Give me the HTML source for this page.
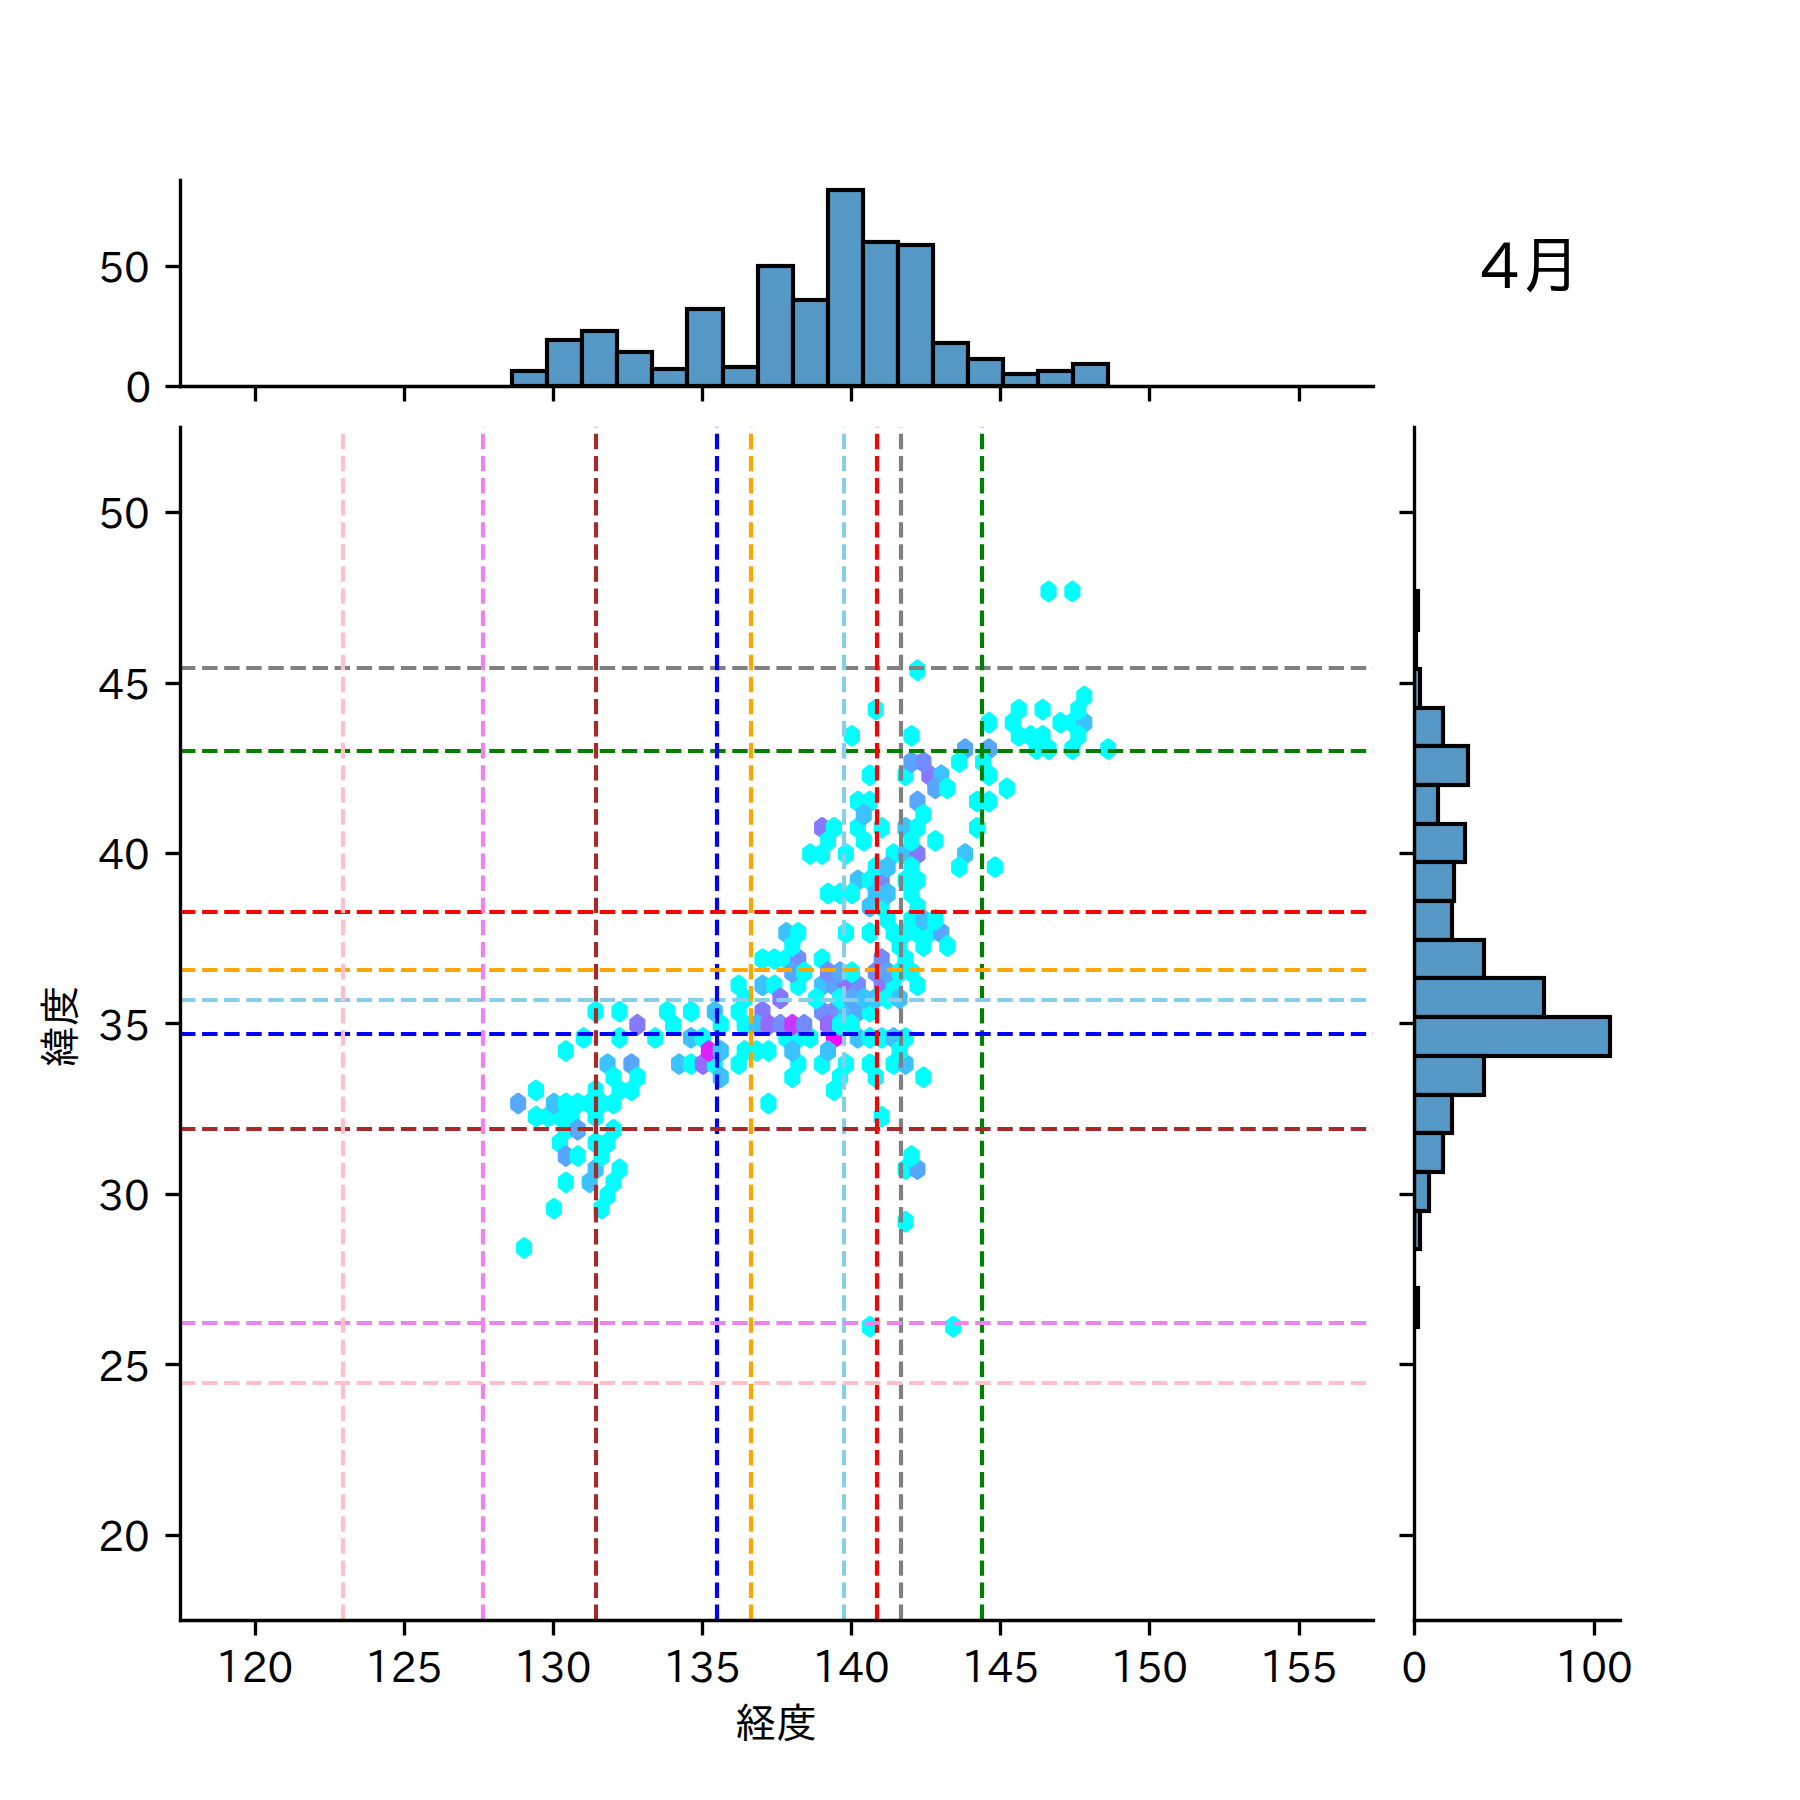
<!DOCTYPE html>
<html lang="ja">
<head>
<meta charset="utf-8">
<title>4月 経度 緯度</title>
<style>
html,body{margin:0;padding:0;background:#fff;}
body{width:1800px;height:1800px;overflow:hidden;}
svg{display:block;font-family:"IPAPGothic", "Liberation Sans", "IPAGothic", sans-serif;}
</style>
</head>
<body>
<svg width="1800" height="1800" viewBox="0 0 1800 1800">
<defs><clipPath id="cm"><rect x="180" y="426.86" width="1193.14" height="1193.14"/></clipPath><clipPath id="ct"><rect x="180" y="180" width="1193.14" height="205.71"/></clipPath><clipPath id="cr"><rect x="1414.29" y="426.86" width="205.71" height="1193.14"/></clipPath></defs>
<rect width="1800" height="1800" fill="#fff"/>
<g clip-path="url(#ct)" fill="#5799c6" stroke="#000" stroke-width="4.17" stroke-linejoin="miter">
<rect x="512" y="371" width="35" height="15"/>
<rect x="547" y="340" width="35" height="46"/>
<rect x="582" y="331" width="35" height="55"/>
<rect x="617" y="352" width="35" height="34"/>
<rect x="652" y="369" width="35" height="17"/>
<rect x="687" y="309" width="36" height="77"/>
<rect x="723" y="367" width="35" height="19"/>
<rect x="758" y="266" width="35" height="120"/>
<rect x="793" y="300" width="35" height="86"/>
<rect x="828" y="190" width="35" height="196"/>
<rect x="863" y="242" width="35" height="144"/>
<rect x="898" y="245" width="35" height="141"/>
<rect x="933" y="343" width="35" height="43"/>
<rect x="968" y="359" width="35" height="27"/>
<rect x="1003" y="374" width="35" height="12"/>
<rect x="1038" y="371" width="35" height="15"/>
<rect x="1073" y="364" width="35" height="22"/>
</g>
<g clip-path="url(#cr)" fill="#5799c6" stroke="#000" stroke-width="4.17" stroke-linejoin="miter">
<rect x="1414" y="591" width="4" height="39"/>
<rect x="1414" y="630" width="2" height="39"/>
<rect x="1414" y="669" width="6" height="39"/>
<rect x="1414" y="708" width="29" height="38"/>
<rect x="1414" y="746" width="54" height="39"/>
<rect x="1414" y="785" width="24" height="39"/>
<rect x="1414" y="824" width="51" height="38"/>
<rect x="1414" y="862" width="40" height="39"/>
<rect x="1414" y="901" width="38" height="39"/>
<rect x="1414" y="940" width="70" height="38"/>
<rect x="1414" y="978" width="130" height="39"/>
<rect x="1414" y="1017" width="196" height="39"/>
<rect x="1414" y="1056" width="70" height="39"/>
<rect x="1414" y="1095" width="38" height="38"/>
<rect x="1414" y="1133" width="29" height="39"/>
<rect x="1414" y="1172" width="15" height="39"/>
<rect x="1414" y="1211" width="6" height="38"/>
<rect x="1414" y="1288" width="4" height="39"/>
</g>
<g clip-path="url(#cm)" stroke-width="4.17" stroke-linejoin="round">
<path d="M530.08 1243.59L530.08 1252.34L524.12 1256.72L518.16 1252.34L518.16 1243.59L524.12 1239.21Z" fill="#00ffff" stroke="#00ffff"/>
<path d="M542 1112.29L542 1121.04L536.04 1125.42L530.08 1121.04L530.08 1112.29L536.04 1107.91Z" fill="#00ffff" stroke="#00ffff"/>
<path d="M542 1086.03L542 1094.78L536.04 1099.16L530.08 1094.78L530.08 1086.03L536.04 1081.65Z" fill="#00ffff" stroke="#00ffff"/>
<path d="M553.92 1112.29L553.92 1121.04L547.96 1125.42L542 1121.04L542 1112.29L547.96 1107.91Z" fill="#00ffff" stroke="#00ffff"/>
<path d="M565.83 1138.55L565.83 1147.3L559.87 1151.68L553.92 1147.3L553.92 1138.55L559.87 1134.17Z" fill="#00ffff" stroke="#00ffff"/>
<path d="M565.83 1112.29L565.83 1121.04L559.87 1125.42L553.92 1121.04L553.92 1112.29L559.87 1107.91Z" fill="#00ffff" stroke="#00ffff"/>
<path d="M577.75 1112.29L577.75 1121.04L571.79 1125.42L565.83 1121.04L565.83 1112.29L571.79 1107.91Z" fill="#00ffff" stroke="#00ffff"/>
<path d="M589.67 1033.51L589.67 1042.26L583.71 1046.64L577.75 1042.26L577.75 1033.51L583.71 1029.13Z" fill="#00ffff" stroke="#00ffff"/>
<path d="M601.59 1164.81L601.59 1173.56L595.63 1177.94L589.67 1173.56L589.67 1164.81L595.63 1160.43Z" fill="#3cc3ff" stroke="#3cc3ff"/>
<path d="M601.59 1138.55L601.59 1147.3L595.63 1151.68L589.67 1147.3L589.67 1138.55L595.63 1134.17Z" fill="#00ffff" stroke="#00ffff"/>
<path d="M601.59 1112.29L601.59 1121.04L595.63 1125.42L589.67 1121.04L589.67 1112.29L595.63 1107.91Z" fill="#00ffff" stroke="#00ffff"/>
<path d="M601.59 1086.03L601.59 1094.78L595.63 1099.16L589.67 1094.78L589.67 1086.03L595.63 1081.65Z" fill="#00ffff" stroke="#00ffff"/>
<path d="M601.59 1007.24L601.59 1016L595.63 1020.38L589.67 1016L589.67 1007.24L595.63 1002.87Z" fill="#00ffff" stroke="#00ffff"/>
<path d="M613.51 1191.07L613.51 1199.82L607.55 1204.2L601.59 1199.82L601.59 1191.07L607.55 1186.69Z" fill="#00ffff" stroke="#00ffff"/>
<path d="M613.51 1138.55L613.51 1147.3L607.55 1151.68L601.59 1147.3L601.59 1138.55L607.55 1134.17Z" fill="#00ffff" stroke="#00ffff"/>
<path d="M613.51 1059.77L613.51 1068.52L607.55 1072.9L601.59 1068.52L601.59 1059.77L607.55 1055.39Z" fill="#3cc3ff" stroke="#3cc3ff"/>
<path d="M625.43 1164.81L625.43 1173.56L619.47 1177.94L613.51 1173.56L613.51 1164.81L619.47 1160.43Z" fill="#00ffff" stroke="#00ffff"/>
<path d="M625.43 1086.03L625.43 1094.78L619.47 1099.16L613.51 1094.78L613.51 1086.03L619.47 1081.65Z" fill="#00ffff" stroke="#00ffff"/>
<path d="M625.43 1033.51L625.43 1042.26L619.47 1046.64L613.51 1042.26L613.51 1033.51L619.47 1029.13Z" fill="#00ffff" stroke="#00ffff"/>
<path d="M625.43 1007.24L625.43 1016L619.47 1020.38L613.51 1016L613.51 1007.24L619.47 1002.87Z" fill="#00ffff" stroke="#00ffff"/>
<path d="M637.35 1086.03L637.35 1094.78L631.39 1099.16L625.43 1094.78L625.43 1086.03L631.39 1081.65Z" fill="#00ffff" stroke="#00ffff"/>
<path d="M637.35 1059.77L637.35 1068.52L631.39 1072.9L625.43 1068.52L625.43 1059.77L631.39 1055.39Z" fill="#58a7ff" stroke="#58a7ff"/>
<path d="M661.18 1033.51L661.18 1042.26L655.22 1046.64L649.27 1042.26L649.27 1033.51L655.22 1029.13Z" fill="#00ffff" stroke="#00ffff"/>
<path d="M673.1 1007.24L673.1 1016L667.14 1020.38L661.18 1016L661.18 1007.24L667.14 1002.87Z" fill="#00ffff" stroke="#00ffff"/>
<path d="M685.02 1059.77L685.02 1068.52L679.06 1072.9L673.1 1068.52L673.1 1059.77L679.06 1055.39Z" fill="#3cc3ff" stroke="#3cc3ff"/>
<path d="M696.94 1059.77L696.94 1068.52L690.98 1072.9L685.02 1068.52L685.02 1059.77L690.98 1055.39Z" fill="#00ffff" stroke="#00ffff"/>
<path d="M696.94 1033.51L696.94 1042.26L690.98 1046.64L685.02 1042.26L685.02 1033.51L690.98 1029.13Z" fill="#3cc3ff" stroke="#3cc3ff"/>
<path d="M696.94 1007.24L696.94 1016L690.98 1020.38L685.02 1016L685.02 1007.24L690.98 1002.87Z" fill="#00ffff" stroke="#00ffff"/>
<path d="M708.86 1059.77L708.86 1068.52L702.9 1072.9L696.94 1068.52L696.94 1059.77L702.9 1055.39Z" fill="#9669ff" stroke="#9669ff"/>
<path d="M708.86 1033.51L708.86 1042.26L702.9 1046.64L696.94 1042.26L696.94 1033.51L702.9 1029.13Z" fill="#00ffff" stroke="#00ffff"/>
<path d="M720.78 1059.77L720.78 1068.52L714.82 1072.9L708.86 1068.52L708.86 1059.77L714.82 1055.39Z" fill="#00ffff" stroke="#00ffff"/>
<path d="M720.78 1007.24L720.78 1016L714.82 1020.38L708.86 1016L708.86 1007.24L714.82 1002.87Z" fill="#3cc3ff" stroke="#3cc3ff"/>
<path d="M744.61 1059.77L744.61 1068.52L738.66 1072.9L732.7 1068.52L732.7 1059.77L738.66 1055.39Z" fill="#00ffff" stroke="#00ffff"/>
<path d="M744.61 1007.24L744.61 1016L738.66 1020.38L732.7 1016L732.7 1007.24L738.66 1002.87Z" fill="#00ffff" stroke="#00ffff"/>
<path d="M744.61 980.98L744.61 989.74L738.66 994.11L732.7 989.74L732.7 980.98L738.66 976.61Z" fill="#00ffff" stroke="#00ffff"/>
<path d="M768.45 1007.24L768.45 1016L762.49 1020.38L756.53 1016L756.53 1007.24L762.49 1002.87Z" fill="#857aff" stroke="#857aff"/>
<path d="M768.45 980.98L768.45 989.74L762.49 994.11L756.53 989.74L756.53 980.98L762.49 976.61Z" fill="#3cc3ff" stroke="#3cc3ff"/>
<path d="M768.45 954.72L768.45 963.48L762.49 967.85L756.53 963.48L756.53 954.72L762.49 950.35Z" fill="#00ffff" stroke="#00ffff"/>
<path d="M780.37 980.98L780.37 989.74L774.41 994.11L768.45 989.74L768.45 980.98L774.41 976.61Z" fill="#00ffff" stroke="#00ffff"/>
<path d="M780.37 954.72L780.37 963.48L774.41 967.85L768.45 963.48L768.45 954.72L774.41 950.35Z" fill="#00ffff" stroke="#00ffff"/>
<path d="M792.29 1033.51L792.29 1042.26L786.33 1046.64L780.37 1042.26L780.37 1033.51L786.33 1029.13Z" fill="#00ffff" stroke="#00ffff"/>
<path d="M792.29 954.72L792.29 963.48L786.33 967.85L780.37 963.48L780.37 954.72L786.33 950.35Z" fill="#00ffff" stroke="#00ffff"/>
<path d="M792.29 928.46L792.29 937.22L786.33 941.59L780.37 937.22L780.37 928.46L786.33 924.09Z" fill="#3cc3ff" stroke="#3cc3ff"/>
<path d="M804.21 1059.77L804.21 1068.52L798.25 1072.9L792.29 1068.52L792.29 1059.77L798.25 1055.39Z" fill="#00ffff" stroke="#00ffff"/>
<path d="M804.21 1033.51L804.21 1042.26L798.25 1046.64L792.29 1042.26L792.29 1033.51L798.25 1029.13Z" fill="#00ffff" stroke="#00ffff"/>
<path d="M804.21 980.98L804.21 989.74L798.25 994.11L792.29 989.74L792.29 980.98L798.25 976.61Z" fill="#00ffff" stroke="#00ffff"/>
<path d="M804.21 954.72L804.21 963.48L798.25 967.85L792.29 963.48L792.29 954.72L798.25 950.35Z" fill="#738cff" stroke="#738cff"/>
<path d="M804.21 928.46L804.21 937.22L798.25 941.59L792.29 937.22L792.29 928.46L798.25 924.09Z" fill="#00ffff" stroke="#00ffff"/>
<path d="M816.13 1033.51L816.13 1042.26L810.17 1046.64L804.21 1042.26L804.21 1033.51L810.17 1029.13Z" fill="#00ffff" stroke="#00ffff"/>
<path d="M816.13 849.68L816.13 858.43L810.17 862.81L804.21 858.43L804.21 849.68L810.17 845.3Z" fill="#00ffff" stroke="#00ffff"/>
<path d="M828.05 1059.77L828.05 1068.52L822.09 1072.9L816.13 1068.52L816.13 1059.77L822.09 1055.39Z" fill="#00ffff" stroke="#00ffff"/>
<path d="M828.05 1007.24L828.05 1016L822.09 1020.38L816.13 1016L816.13 1007.24L822.09 1002.87Z" fill="#738cff" stroke="#738cff"/>
<path d="M828.05 980.98L828.05 989.74L822.09 994.11L816.13 989.74L816.13 980.98L822.09 976.61Z" fill="#3cc3ff" stroke="#3cc3ff"/>
<path d="M828.05 954.72L828.05 963.48L822.09 967.85L816.13 963.48L816.13 954.72L822.09 950.35Z" fill="#00ffff" stroke="#00ffff"/>
<path d="M828.05 849.68L828.05 858.43L822.09 862.81L816.13 858.43L816.13 849.68L822.09 845.3Z" fill="#00ffff" stroke="#00ffff"/>
<path d="M828.05 823.42L828.05 832.17L822.09 836.55L816.13 832.17L816.13 823.42L822.09 819.04Z" fill="#857aff" stroke="#857aff"/>
<path d="M839.96 1086.03L839.96 1094.78L834 1099.16L828.05 1094.78L828.05 1086.03L834 1081.65Z" fill="#00ffff" stroke="#00ffff"/>
<path d="M839.96 1033.51L839.96 1042.26L834 1046.64L828.05 1042.26L828.05 1033.51L834 1029.13Z" fill="#ff00ff" stroke="#ff00ff"/>
<path d="M839.96 1007.24L839.96 1016L834 1020.38L828.05 1016L828.05 1007.24L834 1002.87Z" fill="#738cff" stroke="#738cff"/>
<path d="M839.96 980.98L839.96 989.74L834 994.11L828.05 989.74L828.05 980.98L834 976.61Z" fill="#58a7ff" stroke="#58a7ff"/>
<path d="M839.96 823.42L839.96 832.17L834 836.55L828.05 832.17L828.05 823.42L834 819.04Z" fill="#00ffff" stroke="#00ffff"/>
<path d="M851.88 1059.77L851.88 1068.52L845.92 1072.9L839.96 1068.52L839.96 1059.77L845.92 1055.39Z" fill="#00ffff" stroke="#00ffff"/>
<path d="M851.88 1007.24L851.88 1016L845.92 1020.38L839.96 1016L839.96 1007.24L845.92 1002.87Z" fill="#3cc3ff" stroke="#3cc3ff"/>
<path d="M851.88 980.98L851.88 989.74L845.92 994.11L839.96 989.74L839.96 980.98L845.92 976.61Z" fill="#9669ff" stroke="#9669ff"/>
<path d="M851.88 928.46L851.88 937.22L845.92 941.59L839.96 937.22L839.96 928.46L845.92 924.09Z" fill="#00ffff" stroke="#00ffff"/>
<path d="M851.88 849.68L851.88 858.43L845.92 862.81L839.96 858.43L839.96 849.68L845.92 845.3Z" fill="#00ffff" stroke="#00ffff"/>
<path d="M863.8 1033.51L863.8 1042.26L857.84 1046.64L851.88 1042.26L851.88 1033.51L857.84 1029.13Z" fill="#3cc3ff" stroke="#3cc3ff"/>
<path d="M863.8 1007.24L863.8 1016L857.84 1020.38L851.88 1016L851.88 1007.24L857.84 1002.87Z" fill="#58a7ff" stroke="#58a7ff"/>
<path d="M863.8 980.98L863.8 989.74L857.84 994.11L851.88 989.74L851.88 980.98L857.84 976.61Z" fill="#738cff" stroke="#738cff"/>
<path d="M863.8 875.94L863.8 884.69L857.84 889.07L851.88 884.69L851.88 875.94L857.84 871.56Z" fill="#3cc3ff" stroke="#3cc3ff"/>
<path d="M863.8 823.42L863.8 832.17L857.84 836.55L851.88 832.17L851.88 823.42L857.84 819.04Z" fill="#00ffff" stroke="#00ffff"/>
<path d="M863.8 797.16L863.8 805.91L857.84 810.29L851.88 805.91L851.88 797.16L857.84 792.78Z" fill="#00ffff" stroke="#00ffff"/>
<path d="M875.72 1322.37L875.72 1331.13L869.76 1335.5L863.8 1331.13L863.8 1322.37L869.76 1318Z" fill="#00ffff" stroke="#00ffff"/>
<path d="M875.72 1059.77L875.72 1068.52L869.76 1072.9L863.8 1068.52L863.8 1059.77L869.76 1055.39Z" fill="#00ffff" stroke="#00ffff"/>
<path d="M875.72 1033.51L875.72 1042.26L869.76 1046.64L863.8 1042.26L863.8 1033.51L869.76 1029.13Z" fill="#00ffff" stroke="#00ffff"/>
<path d="M875.72 1007.24L875.72 1016L869.76 1020.38L863.8 1016L863.8 1007.24L869.76 1002.87Z" fill="#00ffff" stroke="#00ffff"/>
<path d="M875.72 928.46L875.72 937.22L869.76 941.59L863.8 937.22L863.8 928.46L869.76 924.09Z" fill="#00ffff" stroke="#00ffff"/>
<path d="M875.72 902.2L875.72 910.96L869.76 915.33L863.8 910.96L863.8 902.2L869.76 897.83Z" fill="#3cc3ff" stroke="#3cc3ff"/>
<path d="M875.72 875.94L875.72 884.69L869.76 889.07L863.8 884.69L863.8 875.94L869.76 871.56Z" fill="#00ffff" stroke="#00ffff"/>
<path d="M875.72 797.16L875.72 805.91L869.76 810.29L863.8 805.91L863.8 797.16L869.76 792.78Z" fill="#00ffff" stroke="#00ffff"/>
<path d="M875.72 770.9L875.72 779.65L869.76 784.03L863.8 779.65L863.8 770.9L869.76 766.52Z" fill="#00ffff" stroke="#00ffff"/>
<path d="M887.64 1112.29L887.64 1121.04L881.68 1125.42L875.72 1121.04L875.72 1112.29L881.68 1107.91Z" fill="#00ffff" stroke="#00ffff"/>
<path d="M887.64 1033.51L887.64 1042.26L881.68 1046.64L875.72 1042.26L875.72 1033.51L881.68 1029.13Z" fill="#00ffff" stroke="#00ffff"/>
<path d="M887.64 980.98L887.64 989.74L881.68 994.11L875.72 989.74L875.72 980.98L881.68 976.61Z" fill="#857aff" stroke="#857aff"/>
<path d="M887.64 954.72L887.64 963.48L881.68 967.85L875.72 963.48L875.72 954.72L881.68 950.35Z" fill="#738cff" stroke="#738cff"/>
<path d="M887.64 902.2L887.64 910.96L881.68 915.33L875.72 910.96L875.72 902.2L881.68 897.83Z" fill="#00ffff" stroke="#00ffff"/>
<path d="M887.64 875.94L887.64 884.69L881.68 889.07L875.72 884.69L875.72 875.94L881.68 871.56Z" fill="#738cff" stroke="#738cff"/>
<path d="M887.64 823.42L887.64 832.17L881.68 836.55L875.72 832.17L875.72 823.42L881.68 819.04Z" fill="#00ffff" stroke="#00ffff"/>
<path d="M899.56 1059.77L899.56 1068.52L893.6 1072.9L887.64 1068.52L887.64 1059.77L893.6 1055.39Z" fill="#00ffff" stroke="#00ffff"/>
<path d="M899.56 1033.51L899.56 1042.26L893.6 1046.64L887.64 1042.26L887.64 1033.51L893.6 1029.13Z" fill="#3cc3ff" stroke="#3cc3ff"/>
<path d="M899.56 980.98L899.56 989.74L893.6 994.11L887.64 989.74L887.64 980.98L893.6 976.61Z" fill="#00ffff" stroke="#00ffff"/>
<path d="M899.56 928.46L899.56 937.22L893.6 941.59L887.64 937.22L887.64 928.46L893.6 924.09Z" fill="#00ffff" stroke="#00ffff"/>
<path d="M899.56 849.68L899.56 858.43L893.6 862.81L887.64 858.43L887.64 849.68L893.6 845.3Z" fill="#00ffff" stroke="#00ffff"/>
<path d="M911.48 1217.33L911.48 1226.08L905.52 1230.46L899.56 1226.08L899.56 1217.33L905.52 1212.95Z" fill="#00ffff" stroke="#00ffff"/>
<path d="M911.48 1164.81L911.48 1173.56L905.52 1177.94L899.56 1173.56L899.56 1164.81L905.52 1160.43Z" fill="#00ffff" stroke="#00ffff"/>
<path d="M911.48 1059.77L911.48 1068.52L905.52 1072.9L899.56 1068.52L899.56 1059.77L905.52 1055.39Z" fill="#3cc3ff" stroke="#3cc3ff"/>
<path d="M911.48 1033.51L911.48 1042.26L905.52 1046.64L899.56 1042.26L899.56 1033.51L905.52 1029.13Z" fill="#00ffff" stroke="#00ffff"/>
<path d="M911.48 954.72L911.48 963.48L905.52 967.85L899.56 963.48L899.56 954.72L905.52 950.35Z" fill="#00ffff" stroke="#00ffff"/>
<path d="M911.48 928.46L911.48 937.22L905.52 941.59L899.56 937.22L899.56 928.46L905.52 924.09Z" fill="#00ffff" stroke="#00ffff"/>
<path d="M911.48 875.94L911.48 884.69L905.52 889.07L899.56 884.69L899.56 875.94L905.52 871.56Z" fill="#00ffff" stroke="#00ffff"/>
<path d="M911.48 849.68L911.48 858.43L905.52 862.81L899.56 858.43L899.56 849.68L905.52 845.3Z" fill="#3cc3ff" stroke="#3cc3ff"/>
<path d="M911.48 823.42L911.48 832.17L905.52 836.55L899.56 832.17L899.56 823.42L905.52 819.04Z" fill="#3cc3ff" stroke="#3cc3ff"/>
<path d="M911.48 770.9L911.48 779.65L905.52 784.03L899.56 779.65L899.56 770.9L905.52 766.52Z" fill="#00ffff" stroke="#00ffff"/>
<path d="M923.4 1164.81L923.4 1173.56L917.44 1177.94L911.48 1173.56L911.48 1164.81L917.44 1160.43Z" fill="#58a7ff" stroke="#58a7ff"/>
<path d="M923.4 980.98L923.4 989.74L917.44 994.11L911.48 989.74L911.48 980.98L917.44 976.61Z" fill="#00ffff" stroke="#00ffff"/>
<path d="M923.4 928.46L923.4 937.22L917.44 941.59L911.48 937.22L911.48 928.46L917.44 924.09Z" fill="#00ffff" stroke="#00ffff"/>
<path d="M923.4 902.2L923.4 910.96L917.44 915.33L911.48 910.96L911.48 902.2L917.44 897.83Z" fill="#00ffff" stroke="#00ffff"/>
<path d="M923.4 875.94L923.4 884.69L917.44 889.07L911.48 884.69L911.48 875.94L917.44 871.56Z" fill="#00ffff" stroke="#00ffff"/>
<path d="M923.4 849.68L923.4 858.43L917.44 862.81L911.48 858.43L911.48 849.68L917.44 845.3Z" fill="#857aff" stroke="#857aff"/>
<path d="M923.4 823.42L923.4 832.17L917.44 836.55L911.48 832.17L911.48 823.42L917.44 819.04Z" fill="#00ffff" stroke="#00ffff"/>
<path d="M923.4 797.16L923.4 805.91L917.44 810.29L911.48 805.91L911.48 797.16L917.44 792.78Z" fill="#58a7ff" stroke="#58a7ff"/>
<path d="M923.4 665.86L923.4 674.61L917.44 678.99L911.48 674.61L911.48 665.86L917.44 661.48Z" fill="#00ffff" stroke="#00ffff"/>
<path d="M935.31 928.46L935.31 937.22L929.35 941.59L923.4 937.22L923.4 928.46L929.35 924.09Z" fill="#00ffff" stroke="#00ffff"/>
<path d="M935.31 770.9L935.31 779.65L929.35 784.03L923.4 779.65L923.4 770.9L929.35 766.52Z" fill="#857aff" stroke="#857aff"/>
<path d="M947.23 928.46L947.23 937.22L941.27 941.59L935.31 937.22L935.31 928.46L941.27 924.09Z" fill="#58a7ff" stroke="#58a7ff"/>
<path d="M947.23 770.9L947.23 779.65L941.27 784.03L935.31 779.65L935.31 770.9L941.27 766.52Z" fill="#3cc3ff" stroke="#3cc3ff"/>
<path d="M959.15 1322.37L959.15 1331.13L953.19 1335.5L947.23 1331.13L947.23 1322.37L953.19 1318Z" fill="#00ffff" stroke="#00ffff"/>
<path d="M971.07 849.68L971.07 858.43L965.11 862.81L959.15 858.43L959.15 849.68L965.11 845.3Z" fill="#3cc3ff" stroke="#3cc3ff"/>
<path d="M971.07 744.64L971.07 753.39L965.11 757.77L959.15 753.39L959.15 744.64L965.11 740.26Z" fill="#58a7ff" stroke="#58a7ff"/>
<path d="M982.99 823.42L982.99 832.17L977.03 836.55L971.07 832.17L971.07 823.42L977.03 819.04Z" fill="#00ffff" stroke="#00ffff"/>
<path d="M982.99 797.16L982.99 805.91L977.03 810.29L971.07 805.91L971.07 797.16L977.03 792.78Z" fill="#00ffff" stroke="#00ffff"/>
<path d="M994.91 797.16L994.91 805.91L988.95 810.29L982.99 805.91L982.99 797.16L988.95 792.78Z" fill="#00ffff" stroke="#00ffff"/>
<path d="M994.91 770.9L994.91 779.65L988.95 784.03L982.99 779.65L982.99 770.9L988.95 766.52Z" fill="#00ffff" stroke="#00ffff"/>
<path d="M994.91 744.64L994.91 753.39L988.95 757.77L982.99 753.39L982.99 744.64L988.95 740.26Z" fill="#58a7ff" stroke="#58a7ff"/>
<path d="M994.91 718.38L994.91 727.13L988.95 731.51L982.99 727.13L982.99 718.38L988.95 714Z" fill="#00ffff" stroke="#00ffff"/>
<path d="M1018.74 718.38L1018.74 727.13L1012.79 731.51L1006.83 727.13L1006.83 718.38L1012.79 714Z" fill="#00ffff" stroke="#00ffff"/>
<path d="M1042.58 744.64L1042.58 753.39L1036.62 757.77L1030.66 753.39L1030.66 744.64L1036.62 740.26Z" fill="#00ffff" stroke="#00ffff"/>
<path d="M1054.5 744.64L1054.5 753.39L1048.54 757.77L1042.58 753.39L1042.58 744.64L1048.54 740.26Z" fill="#00ffff" stroke="#00ffff"/>
<path d="M1054.5 587.07L1054.5 595.83L1048.54 600.2L1042.58 595.83L1042.58 587.07L1048.54 582.7Z" fill="#00ffff" stroke="#00ffff"/>
<path d="M1066.42 718.38L1066.42 727.13L1060.46 731.51L1054.5 727.13L1054.5 718.38L1060.46 714Z" fill="#00ffff" stroke="#00ffff"/>
<path d="M1078.34 744.64L1078.34 753.39L1072.38 757.77L1066.42 753.39L1066.42 744.64L1072.38 740.26Z" fill="#00ffff" stroke="#00ffff"/>
<path d="M1078.34 718.38L1078.34 727.13L1072.38 731.51L1066.42 727.13L1066.42 718.38L1072.38 714Z" fill="#00ffff" stroke="#00ffff"/>
<path d="M1078.34 587.07L1078.34 595.83L1072.38 600.2L1066.42 595.83L1066.42 587.07L1072.38 582.7Z" fill="#00ffff" stroke="#00ffff"/>
<path d="M1090.26 718.38L1090.26 727.13L1084.3 731.51L1078.34 727.13L1078.34 718.38L1084.3 714Z" fill="#3cc3ff" stroke="#3cc3ff"/>
<path d="M1090.26 692.12L1090.26 700.87L1084.3 705.25L1078.34 700.87L1078.34 692.12L1084.3 687.74Z" fill="#00ffff" stroke="#00ffff"/>
<path d="M1114.09 744.64L1114.09 753.39L1108.13 757.77L1102.18 753.39L1102.18 744.64L1108.13 740.26Z" fill="#00ffff" stroke="#00ffff"/>
<path d="M524.12 1099.16L524.12 1107.91L518.16 1112.29L512.2 1107.91L512.2 1099.16L518.16 1094.78Z" fill="#58a7ff" stroke="#58a7ff"/>
<path d="M559.87 1204.2L559.87 1212.95L553.92 1217.33L547.96 1212.95L547.96 1204.2L553.92 1199.82Z" fill="#00ffff" stroke="#00ffff"/>
<path d="M559.87 1099.16L559.87 1107.91L553.92 1112.29L547.96 1107.91L547.96 1099.16L553.92 1094.78Z" fill="#3cc3ff" stroke="#3cc3ff"/>
<path d="M571.79 1177.94L571.79 1186.69L565.83 1191.07L559.87 1186.69L559.87 1177.94L565.83 1173.56Z" fill="#00ffff" stroke="#00ffff"/>
<path d="M571.79 1151.68L571.79 1160.43L565.83 1164.81L559.87 1160.43L559.87 1151.68L565.83 1147.3Z" fill="#58a7ff" stroke="#58a7ff"/>
<path d="M571.79 1125.42L571.79 1134.17L565.83 1138.55L559.87 1134.17L559.87 1125.42L565.83 1121.04Z" fill="#00ffff" stroke="#00ffff"/>
<path d="M571.79 1099.16L571.79 1107.91L565.83 1112.29L559.87 1107.91L559.87 1099.16L565.83 1094.78Z" fill="#00ffff" stroke="#00ffff"/>
<path d="M571.79 1046.64L571.79 1055.39L565.83 1059.77L559.87 1055.39L559.87 1046.64L565.83 1042.26Z" fill="#00ffff" stroke="#00ffff"/>
<path d="M583.71 1151.68L583.71 1160.43L577.75 1164.81L571.79 1160.43L571.79 1151.68L577.75 1147.3Z" fill="#00ffff" stroke="#00ffff"/>
<path d="M583.71 1125.42L583.71 1134.17L577.75 1138.55L571.79 1134.17L571.79 1125.42L577.75 1121.04Z" fill="#58a7ff" stroke="#58a7ff"/>
<path d="M583.71 1099.16L583.71 1107.91L577.75 1112.29L571.79 1107.91L571.79 1099.16L577.75 1094.78Z" fill="#00ffff" stroke="#00ffff"/>
<path d="M595.63 1177.94L595.63 1186.69L589.67 1191.07L583.71 1186.69L583.71 1177.94L589.67 1173.56Z" fill="#3cc3ff" stroke="#3cc3ff"/>
<path d="M595.63 1099.16L595.63 1107.91L589.67 1112.29L583.71 1107.91L583.71 1099.16L589.67 1094.78Z" fill="#00ffff" stroke="#00ffff"/>
<path d="M607.55 1204.2L607.55 1212.95L601.59 1217.33L595.63 1212.95L595.63 1204.2L601.59 1199.82Z" fill="#00ffff" stroke="#00ffff"/>
<path d="M607.55 1151.68L607.55 1160.43L601.59 1164.81L595.63 1160.43L595.63 1151.68L601.59 1147.3Z" fill="#00ffff" stroke="#00ffff"/>
<path d="M607.55 1099.16L607.55 1107.91L601.59 1112.29L595.63 1107.91L595.63 1099.16L601.59 1094.78Z" fill="#00ffff" stroke="#00ffff"/>
<path d="M619.47 1177.94L619.47 1186.69L613.51 1191.07L607.55 1186.69L607.55 1177.94L613.51 1173.56Z" fill="#00ffff" stroke="#00ffff"/>
<path d="M619.47 1125.42L619.47 1134.17L613.51 1138.55L607.55 1134.17L607.55 1125.42L613.51 1121.04Z" fill="#00ffff" stroke="#00ffff"/>
<path d="M619.47 1099.16L619.47 1107.91L613.51 1112.29L607.55 1107.91L607.55 1099.16L613.51 1094.78Z" fill="#00ffff" stroke="#00ffff"/>
<path d="M619.47 1072.9L619.47 1081.65L613.51 1086.03L607.55 1081.65L607.55 1072.9L613.51 1068.52Z" fill="#00ffff" stroke="#00ffff"/>
<path d="M643.31 1072.9L643.31 1081.65L637.35 1086.03L631.39 1081.65L631.39 1072.9L637.35 1068.52Z" fill="#00ffff" stroke="#00ffff"/>
<path d="M643.31 1020.38L643.31 1029.13L637.35 1033.51L631.39 1029.13L631.39 1020.38L637.35 1016Z" fill="#857aff" stroke="#857aff"/>
<path d="M679.06 1020.38L679.06 1029.13L673.1 1033.51L667.14 1029.13L667.14 1020.38L673.1 1016Z" fill="#00ffff" stroke="#00ffff"/>
<path d="M714.82 1046.64L714.82 1055.39L708.86 1059.77L702.9 1055.39L702.9 1046.64L708.86 1042.26Z" fill="#e01fff" stroke="#e01fff"/>
<path d="M726.74 1072.9L726.74 1081.65L720.78 1086.03L714.82 1081.65L714.82 1072.9L720.78 1068.52Z" fill="#3cc3ff" stroke="#3cc3ff"/>
<path d="M726.74 1046.64L726.74 1055.39L720.78 1059.77L714.82 1055.39L714.82 1046.64L720.78 1042.26Z" fill="#3cc3ff" stroke="#3cc3ff"/>
<path d="M726.74 1020.38L726.74 1029.13L720.78 1033.51L714.82 1029.13L714.82 1020.38L720.78 1016Z" fill="#00ffff" stroke="#00ffff"/>
<path d="M750.57 1046.64L750.57 1055.39L744.61 1059.77L738.66 1055.39L738.66 1046.64L744.61 1042.26Z" fill="#00ffff" stroke="#00ffff"/>
<path d="M750.57 1020.38L750.57 1029.13L744.61 1033.51L738.66 1029.13L738.66 1020.38L744.61 1016Z" fill="#00ffff" stroke="#00ffff"/>
<path d="M750.57 994.11L750.57 1002.87L744.61 1007.24L738.66 1002.87L738.66 994.11L744.61 989.74Z" fill="#00ffff" stroke="#00ffff"/>
<path d="M762.49 1046.64L762.49 1055.39L756.53 1059.77L750.57 1055.39L750.57 1046.64L756.53 1042.26Z" fill="#00ffff" stroke="#00ffff"/>
<path d="M762.49 1020.38L762.49 1029.13L756.53 1033.51L750.57 1029.13L750.57 1020.38L756.53 1016Z" fill="#3cc3ff" stroke="#3cc3ff"/>
<path d="M774.41 1099.16L774.41 1107.91L768.45 1112.29L762.49 1107.91L762.49 1099.16L768.45 1094.78Z" fill="#00ffff" stroke="#00ffff"/>
<path d="M774.41 1046.64L774.41 1055.39L768.45 1059.77L762.49 1055.39L762.49 1046.64L768.45 1042.26Z" fill="#00ffff" stroke="#00ffff"/>
<path d="M774.41 1020.38L774.41 1029.13L768.45 1033.51L762.49 1029.13L762.49 1020.38L768.45 1016Z" fill="#9669ff" stroke="#9669ff"/>
<path d="M786.33 1020.38L786.33 1029.13L780.37 1033.51L774.41 1029.13L774.41 1020.38L780.37 1016Z" fill="#738cff" stroke="#738cff"/>
<path d="M786.33 994.11L786.33 1002.87L780.37 1007.24L774.41 1002.87L774.41 994.11L780.37 989.74Z" fill="#857aff" stroke="#857aff"/>
<path d="M798.25 1072.9L798.25 1081.65L792.29 1086.03L786.33 1081.65L786.33 1072.9L792.29 1068.52Z" fill="#00ffff" stroke="#00ffff"/>
<path d="M798.25 1046.64L798.25 1055.39L792.29 1059.77L786.33 1055.39L786.33 1046.64L792.29 1042.26Z" fill="#3cc3ff" stroke="#3cc3ff"/>
<path d="M798.25 1020.38L798.25 1029.13L792.29 1033.51L786.33 1029.13L786.33 1020.38L792.29 1016Z" fill="#c738ff" stroke="#c738ff"/>
<path d="M798.25 967.85L798.25 976.61L792.29 980.98L786.33 976.61L786.33 967.85L792.29 963.48Z" fill="#58a7ff" stroke="#58a7ff"/>
<path d="M798.25 941.59L798.25 950.35L792.29 954.72L786.33 950.35L786.33 941.59L792.29 937.22Z" fill="#00ffff" stroke="#00ffff"/>
<path d="M810.17 1020.38L810.17 1029.13L804.21 1033.51L798.25 1029.13L798.25 1020.38L804.21 1016Z" fill="#738cff" stroke="#738cff"/>
<path d="M810.17 967.85L810.17 976.61L804.21 980.98L798.25 976.61L798.25 967.85L804.21 963.48Z" fill="#00ffff" stroke="#00ffff"/>
<path d="M822.09 994.11L822.09 1002.87L816.13 1007.24L810.17 1002.87L810.17 994.11L816.13 989.74Z" fill="#00ffff" stroke="#00ffff"/>
<path d="M834 1046.64L834 1055.39L828.05 1059.77L822.09 1055.39L822.09 1046.64L828.05 1042.26Z" fill="#3cc3ff" stroke="#3cc3ff"/>
<path d="M834 1020.38L834 1029.13L828.05 1033.51L822.09 1029.13L822.09 1020.38L828.05 1016Z" fill="#9669ff" stroke="#9669ff"/>
<path d="M834 967.85L834 976.61L828.05 980.98L822.09 976.61L822.09 967.85L828.05 963.48Z" fill="#738cff" stroke="#738cff"/>
<path d="M834 889.07L834 897.83L828.05 902.2L822.09 897.83L822.09 889.07L828.05 884.69Z" fill="#00ffff" stroke="#00ffff"/>
<path d="M834 836.55L834 845.3L828.05 849.68L822.09 845.3L822.09 836.55L828.05 832.17Z" fill="#00ffff" stroke="#00ffff"/>
<path d="M845.92 1072.9L845.92 1081.65L839.96 1086.03L834 1081.65L834 1072.9L839.96 1068.52Z" fill="#00ffff" stroke="#00ffff"/>
<path d="M845.92 1020.38L845.92 1029.13L839.96 1033.51L834 1029.13L834 1020.38L839.96 1016Z" fill="#00ffff" stroke="#00ffff"/>
<path d="M845.92 994.11L845.92 1002.87L839.96 1007.24L834 1002.87L834 994.11L839.96 989.74Z" fill="#00ffff" stroke="#00ffff"/>
<path d="M845.92 967.85L845.92 976.61L839.96 980.98L834 976.61L834 967.85L839.96 963.48Z" fill="#58a7ff" stroke="#58a7ff"/>
<path d="M845.92 889.07L845.92 897.83L839.96 902.2L834 897.83L834 889.07L839.96 884.69Z" fill="#00ffff" stroke="#00ffff"/>
<path d="M857.84 1020.38L857.84 1029.13L851.88 1033.51L845.92 1029.13L845.92 1020.38L851.88 1016Z" fill="#00ffff" stroke="#00ffff"/>
<path d="M857.84 994.11L857.84 1002.87L851.88 1007.24L845.92 1002.87L845.92 994.11L851.88 989.74Z" fill="#58a7ff" stroke="#58a7ff"/>
<path d="M857.84 967.85L857.84 976.61L851.88 980.98L845.92 976.61L845.92 967.85L851.88 963.48Z" fill="#00ffff" stroke="#00ffff"/>
<path d="M857.84 889.07L857.84 897.83L851.88 902.2L845.92 897.83L845.92 889.07L851.88 884.69Z" fill="#00ffff" stroke="#00ffff"/>
<path d="M857.84 731.51L857.84 740.26L851.88 744.64L845.92 740.26L845.92 731.51L851.88 727.13Z" fill="#00ffff" stroke="#00ffff"/>
<path d="M869.76 994.11L869.76 1002.87L863.8 1007.24L857.84 1002.87L857.84 994.11L863.8 989.74Z" fill="#3cc3ff" stroke="#3cc3ff"/>
<path d="M869.76 836.55L869.76 845.3L863.8 849.68L857.84 845.3L857.84 836.55L863.8 832.17Z" fill="#00ffff" stroke="#00ffff"/>
<path d="M869.76 810.29L869.76 819.04L863.8 823.42L857.84 819.04L857.84 810.29L863.8 805.91Z" fill="#3cc3ff" stroke="#3cc3ff"/>
<path d="M881.68 1072.9L881.68 1081.65L875.72 1086.03L869.76 1081.65L869.76 1072.9L875.72 1068.52Z" fill="#00ffff" stroke="#00ffff"/>
<path d="M881.68 994.11L881.68 1002.87L875.72 1007.24L869.76 1002.87L869.76 994.11L875.72 989.74Z" fill="#3cc3ff" stroke="#3cc3ff"/>
<path d="M881.68 967.85L881.68 976.61L875.72 980.98L869.76 976.61L869.76 967.85L875.72 963.48Z" fill="#738cff" stroke="#738cff"/>
<path d="M881.68 889.07L881.68 897.83L875.72 902.2L869.76 897.83L869.76 889.07L875.72 884.69Z" fill="#3cc3ff" stroke="#3cc3ff"/>
<path d="M881.68 862.81L881.68 871.56L875.72 875.94L869.76 871.56L869.76 862.81L875.72 858.43Z" fill="#00ffff" stroke="#00ffff"/>
<path d="M881.68 705.25L881.68 714L875.72 718.38L869.76 714L869.76 705.25L875.72 700.87Z" fill="#00ffff" stroke="#00ffff"/>
<path d="M893.6 994.11L893.6 1002.87L887.64 1007.24L881.68 1002.87L881.68 994.11L887.64 989.74Z" fill="#00ffff" stroke="#00ffff"/>
<path d="M893.6 967.85L893.6 976.61L887.64 980.98L881.68 976.61L881.68 967.85L887.64 963.48Z" fill="#58a7ff" stroke="#58a7ff"/>
<path d="M893.6 915.33L893.6 924.09L887.64 928.46L881.68 924.09L881.68 915.33L887.64 910.96Z" fill="#00ffff" stroke="#00ffff"/>
<path d="M893.6 889.07L893.6 897.83L887.64 902.2L881.68 897.83L881.68 889.07L887.64 884.69Z" fill="#3cc3ff" stroke="#3cc3ff"/>
<path d="M893.6 862.81L893.6 871.56L887.64 875.94L881.68 871.56L881.68 862.81L887.64 858.43Z" fill="#3cc3ff" stroke="#3cc3ff"/>
<path d="M905.52 1046.64L905.52 1055.39L899.56 1059.77L893.6 1055.39L893.6 1046.64L899.56 1042.26Z" fill="#00ffff" stroke="#00ffff"/>
<path d="M905.52 994.11L905.52 1002.87L899.56 1007.24L893.6 1002.87L893.6 994.11L899.56 989.74Z" fill="#3cc3ff" stroke="#3cc3ff"/>
<path d="M905.52 967.85L905.52 976.61L899.56 980.98L893.6 976.61L893.6 967.85L899.56 963.48Z" fill="#00ffff" stroke="#00ffff"/>
<path d="M905.52 941.59L905.52 950.35L899.56 954.72L893.6 950.35L893.6 941.59L899.56 937.22Z" fill="#00ffff" stroke="#00ffff"/>
<path d="M917.44 1151.68L917.44 1160.43L911.48 1164.81L905.52 1160.43L905.52 1151.68L911.48 1147.3Z" fill="#00ffff" stroke="#00ffff"/>
<path d="M917.44 967.85L917.44 976.61L911.48 980.98L905.52 976.61L905.52 967.85L911.48 963.48Z" fill="#00ffff" stroke="#00ffff"/>
<path d="M917.44 915.33L917.44 924.09L911.48 928.46L905.52 924.09L905.52 915.33L911.48 910.96Z" fill="#00ffff" stroke="#00ffff"/>
<path d="M917.44 889.07L917.44 897.83L911.48 902.2L905.52 897.83L905.52 889.07L911.48 884.69Z" fill="#00ffff" stroke="#00ffff"/>
<path d="M917.44 862.81L917.44 871.56L911.48 875.94L905.52 871.56L905.52 862.81L911.48 858.43Z" fill="#00ffff" stroke="#00ffff"/>
<path d="M917.44 836.55L917.44 845.3L911.48 849.68L905.52 845.3L905.52 836.55L911.48 832.17Z" fill="#00ffff" stroke="#00ffff"/>
<path d="M917.44 757.77L917.44 766.52L911.48 770.9L905.52 766.52L905.52 757.77L911.48 753.39Z" fill="#58a7ff" stroke="#58a7ff"/>
<path d="M917.44 731.51L917.44 740.26L911.48 744.64L905.52 740.26L905.52 731.51L911.48 727.13Z" fill="#00ffff" stroke="#00ffff"/>
<path d="M929.35 1072.9L929.35 1081.65L923.4 1086.03L917.44 1081.65L917.44 1072.9L923.4 1068.52Z" fill="#00ffff" stroke="#00ffff"/>
<path d="M929.35 941.59L929.35 950.35L923.4 954.72L917.44 950.35L917.44 941.59L923.4 937.22Z" fill="#00ffff" stroke="#00ffff"/>
<path d="M929.35 915.33L929.35 924.09L923.4 928.46L917.44 924.09L917.44 915.33L923.4 910.96Z" fill="#3cc3ff" stroke="#3cc3ff"/>
<path d="M929.35 810.29L929.35 819.04L923.4 823.42L917.44 819.04L917.44 810.29L923.4 805.91Z" fill="#00ffff" stroke="#00ffff"/>
<path d="M929.35 757.77L929.35 766.52L923.4 770.9L917.44 766.52L917.44 757.77L923.4 753.39Z" fill="#738cff" stroke="#738cff"/>
<path d="M941.27 915.33L941.27 924.09L935.31 928.46L929.35 924.09L929.35 915.33L935.31 910.96Z" fill="#00ffff" stroke="#00ffff"/>
<path d="M941.27 836.55L941.27 845.3L935.31 849.68L929.35 845.3L929.35 836.55L935.31 832.17Z" fill="#00ffff" stroke="#00ffff"/>
<path d="M941.27 784.03L941.27 792.78L935.31 797.16L929.35 792.78L929.35 784.03L935.31 779.65Z" fill="#58a7ff" stroke="#58a7ff"/>
<path d="M953.19 941.59L953.19 950.35L947.23 954.72L941.27 950.35L941.27 941.59L947.23 937.22Z" fill="#00ffff" stroke="#00ffff"/>
<path d="M953.19 784.03L953.19 792.78L947.23 797.16L941.27 792.78L941.27 784.03L947.23 779.65Z" fill="#00ffff" stroke="#00ffff"/>
<path d="M965.11 862.81L965.11 871.56L959.15 875.94L953.19 871.56L953.19 862.81L959.15 858.43Z" fill="#00ffff" stroke="#00ffff"/>
<path d="M965.11 757.77L965.11 766.52L959.15 770.9L953.19 766.52L953.19 757.77L959.15 753.39Z" fill="#00ffff" stroke="#00ffff"/>
<path d="M988.95 757.77L988.95 766.52L982.99 770.9L977.03 766.52L977.03 757.77L982.99 753.39Z" fill="#00ffff" stroke="#00ffff"/>
<path d="M1000.87 862.81L1000.87 871.56L994.91 875.94L988.95 871.56L988.95 862.81L994.91 858.43Z" fill="#00ffff" stroke="#00ffff"/>
<path d="M1012.79 784.03L1012.79 792.78L1006.83 797.16L1000.87 792.78L1000.87 784.03L1006.83 779.65Z" fill="#00ffff" stroke="#00ffff"/>
<path d="M1024.7 731.51L1024.7 740.26L1018.74 744.64L1012.79 740.26L1012.79 731.51L1018.74 727.13Z" fill="#00ffff" stroke="#00ffff"/>
<path d="M1024.7 705.25L1024.7 714L1018.74 718.38L1012.79 714L1012.79 705.25L1018.74 700.87Z" fill="#00ffff" stroke="#00ffff"/>
<path d="M1036.62 731.51L1036.62 740.26L1030.66 744.64L1024.7 740.26L1024.7 731.51L1030.66 727.13Z" fill="#00ffff" stroke="#00ffff"/>
<path d="M1048.54 731.51L1048.54 740.26L1042.58 744.64L1036.62 740.26L1036.62 731.51L1042.58 727.13Z" fill="#00ffff" stroke="#00ffff"/>
<path d="M1048.54 705.25L1048.54 714L1042.58 718.38L1036.62 714L1036.62 705.25L1042.58 700.87Z" fill="#00ffff" stroke="#00ffff"/>
<path d="M1084.3 731.51L1084.3 740.26L1078.34 744.64L1072.38 740.26L1072.38 731.51L1078.34 727.13Z" fill="#00ffff" stroke="#00ffff"/>
<path d="M1084.3 705.25L1084.3 714L1078.34 718.38L1072.38 714L1072.38 705.25L1078.34 700.87Z" fill="#00ffff" stroke="#00ffff"/>
</g>
<g clip-path="url(#cm)" fill="none" stroke-width="4.17" stroke-dasharray="15.42 6.67">
<path d="M901 1620V426.86" stroke="#808080"/>
<path d="M180 668H1373.14" stroke="#808080"/>
<path d="M982 1620V426.86" stroke="#008000"/>
<path d="M180 751H1373.14" stroke="#008000"/>
<path d="M844 1620V426.86" stroke="#87ceeb"/>
<path d="M180 1000H1373.14" stroke="#87ceeb"/>
<path d="M717 1620V426.86" stroke="#0000ff"/>
<path d="M180 1034H1373.14" stroke="#0000ff"/>
<path d="M751 1620V426.86" stroke="#ffa500"/>
<path d="M180 970H1373.14" stroke="#ffa500"/>
<path d="M596 1620V426.86" stroke="#a52a2a"/>
<path d="M180 1129H1373.14" stroke="#a52a2a"/>
<path d="M877 1620V426.86" stroke="#ff0000"/>
<path d="M180 912H1373.14" stroke="#ff0000"/>
<path d="M483 1620V426.86" stroke="#ee82ee"/>
<path d="M180 1323H1373.14" stroke="#ee82ee"/>
<path d="M343 1620V426.86" stroke="#ffc0cb"/>
<path d="M180 1383H1373.14" stroke="#ffc0cb"/>
</g>
<g stroke="#000" stroke-width="3.33" fill="none" stroke-linecap="square">
<path d="M180.5 180.5V386.5"/>
<path d="M180.5 386.5H1373.5"/>
<path d="M180.5 427.5V1620.5"/>
<path d="M180.5 1620.5H1373.5"/>
<path d="M1414.5 427.5V1620.5"/>
<path d="M1414.5 1620.5H1620.5"/>
</g>
<g stroke="#000" stroke-width="3.33" fill="none">
<path d="M255.5 1620.5v15"/>
<path d="M255.5 386.5v15"/>
<path d="M404.5 1620.5v15"/>
<path d="M404.5 386.5v15"/>
<path d="M553.5 1620.5v15"/>
<path d="M553.5 386.5v15"/>
<path d="M702.5 1620.5v15"/>
<path d="M702.5 386.5v15"/>
<path d="M851.5 1620.5v15"/>
<path d="M851.5 386.5v15"/>
<path d="M1000.5 1620.5v15"/>
<path d="M1000.5 386.5v15"/>
<path d="M1149.5 1620.5v15"/>
<path d="M1149.5 386.5v15"/>
<path d="M1299.5 1620.5v15"/>
<path d="M1299.5 386.5v15"/>
<path d="M180.5 1535.5h-15"/>
<path d="M1414.5 1535.5h-15"/>
<path d="M180.5 1364.5h-15"/>
<path d="M1414.5 1364.5h-15"/>
<path d="M180.5 1194.5h-15"/>
<path d="M1414.5 1194.5h-15"/>
<path d="M180.5 1023.5h-15"/>
<path d="M1414.5 1023.5h-15"/>
<path d="M180.5 853.5h-15"/>
<path d="M1414.5 853.5h-15"/>
<path d="M180.5 683.5h-15"/>
<path d="M1414.5 683.5h-15"/>
<path d="M180.5 512.5h-15"/>
<path d="M1414.5 512.5h-15"/>
<path d="M180.5 386.5h-15"/>
<path d="M180.5 266.5h-15"/>
<path d="M1414.5 1620.5v15"/>
<path d="M1594.5 1620.5v15"/>
</g>
<g font-size="41.67" fill="#000">
<text transform="translate(254.57 1681.7) scale(0.98 1)" text-anchor="middle">120</text>
<text transform="translate(403.71 1681.7) scale(0.98 1)" text-anchor="middle">125</text>
<text transform="translate(552.86 1681.7) scale(0.98 1)" text-anchor="middle">130</text>
<text transform="translate(702 1681.7) scale(0.98 1)" text-anchor="middle">135</text>
<text transform="translate(851.14 1681.7) scale(0.98 1)" text-anchor="middle">140</text>
<text transform="translate(1000.29 1681.7) scale(0.98 1)" text-anchor="middle">145</text>
<text transform="translate(1149.43 1681.7) scale(0.98 1)" text-anchor="middle">150</text>
<text transform="translate(1298.57 1681.7) scale(0.98 1)" text-anchor="middle">155</text>
<text transform="translate(149.6 1550.98) scale(0.98 1)" text-anchor="end">20</text>
<text transform="translate(149.6 1380.53) scale(0.98 1)" text-anchor="end">25</text>
<text transform="translate(149.6 1210.08) scale(0.98 1)" text-anchor="end">30</text>
<text transform="translate(149.6 1039.63) scale(0.98 1)" text-anchor="end">35</text>
<text transform="translate(149.6 869.18) scale(0.98 1)" text-anchor="end">40</text>
<text transform="translate(149.6 698.73) scale(0.98 1)" text-anchor="end">45</text>
<text transform="translate(149.6 528.28) scale(0.98 1)" text-anchor="end">50</text>
<text transform="translate(151.1 401.91) scale(0.98 1)" text-anchor="end">0</text>
<text transform="translate(149.6 282.45) scale(0.98 1)" text-anchor="end">50</text>
<text transform="translate(1414.29 1681.7) scale(0.98 1)" text-anchor="middle">0</text>
<text transform="translate(1594.03 1681.7) scale(0.98 1)" text-anchor="middle">100</text>
<text x="776.4" y="1737.9" text-anchor="middle">経度</text>
<text transform="translate(75 1026) rotate(-90)" text-anchor="middle">緯度</text>
<text x="1480" y="288" font-size="62.5">4月</text>
</g>
</svg>
</body>
</html>
